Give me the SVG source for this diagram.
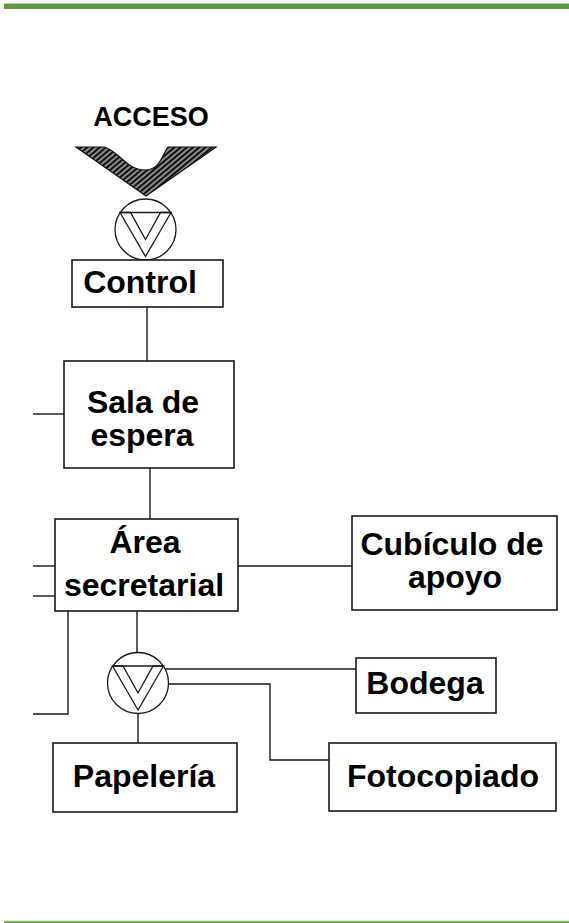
<svg xmlns="http://www.w3.org/2000/svg" width="569" height="923" viewBox="0 0 569 923">
<style>
.box{fill:#fff;stroke:#1a1a1a;stroke-width:1.6}
.ln{fill:none;stroke:#1a1a1a;stroke-width:1.4}
.vc{fill:#fff;stroke:#1a1a1a;stroke-width:1.3}
.vv{fill:#fff;stroke:#1a1a1a;stroke-width:1.3;stroke-linejoin:miter}
.t{font-family:"Liberation Sans",Arial,sans-serif;font-weight:bold;font-size:32px;fill:#000;text-anchor:middle}
</style>
<defs>
<pattern id="hatch" width="4" height="4" patternUnits="userSpaceOnUse" patternTransform="rotate(-40)">
<rect width="4" height="4" fill="#8a8a8a"/>
<rect width="4" height="2" fill="#111"/>
</pattern>
<g id="valve">
<circle class="vc" cx="0" cy="0" r="30.5"/>
<polygon class="vv" points="-25.5,-17 0,27 25.5,-17 15,-17 0,10 -15,-17"/>
<line class="ln" x1="-25.5" y1="-17" x2="25.5" y2="-17" stroke-width="1.3"/>
</g>
</defs>
<rect width="569" height="923" fill="#fff"/>
<rect x="4" y="3" width="565" height="6" fill="#5e9641"/>
<rect x="4" y="3" width="565" height="1" fill="#b7d2a8"/>
<rect x="4" y="920.5" width="565" height="1" fill="#b7d2a8"/>
<rect x="4" y="921.5" width="565" height="1.5" fill="#5e9641"/>

<g id="connectors">
<line class="ln" x1="147" y1="307" x2="147" y2="361"/>
<line class="ln" x1="33" y1="414" x2="64" y2="414"/>
<line class="ln" x1="150" y1="468" x2="150" y2="519"/>
<line class="ln" x1="33" y1="566" x2="55" y2="566"/>
<line class="ln" x1="33" y1="596" x2="55" y2="596"/>
<line class="ln" x1="238" y1="566" x2="352" y2="566"/>
<polyline class="ln" points="68,611 68,714 33,714"/>
<line class="ln" x1="137" y1="611" x2="137" y2="653"/>
<line class="ln" x1="163" y1="669" x2="356" y2="669"/>
<polyline class="ln" points="168,684 270,684 270,760 329,760"/>
<line class="ln" x1="138" y1="713" x2="138" y2="743"/>
</g>

<g id="acceso">
<text class="t" x="151" y="126" style="font-size:27px">ACCESO</text>
<path d="M76,147 L104,147 C118,150 126,170 145,170 C160,170 162,155 168,147 L216,147 L146,196 Z" fill="url(#hatch)" stroke="#111" stroke-width="1.2"/>
</g>

<g id="valve-top">
<use href="#valve" x="145.5" y="229.5"/>
</g>

<g id="control">
<rect class="box" x="72" y="260" width="151" height="47"/>
<text class="t" x="140" y="293">Control</text>
</g>

<g id="sala">
<rect class="box" x="64" y="361" width="170" height="107"/>
<text class="t" x="143" y="413">Sala de</text>
<text class="t" x="142" y="446">espera</text>
</g>

<g id="area">
<rect class="box" x="55" y="519" width="183" height="92"/>
<text class="t" x="145" y="553">Área</text>
<text class="t" x="144" y="596">secretarial</text>
</g>

<g id="cubiculo">
<rect class="box" x="352" y="516" width="205" height="94"/>
<text class="t" x="452" y="555">Cubículo de</text>
<text class="t" x="455" y="588">apoyo</text>
</g>

<g id="valve-bottom">
<use href="#valve" x="138" y="683"/>
</g>

<g id="bodega">
<rect class="box" x="356" y="658" width="140" height="55"/>
<text class="t" x="425" y="694">Bodega</text>
</g>

<g id="fotocopiado">
<rect class="box" x="329" y="743" width="227" height="68"/>
<text class="t" x="443" y="787">Fotocopiado</text>
</g>

<g id="papeleria">
<rect class="box" x="53" y="743" width="184" height="69"/>
<text class="t" x="144" y="787">Papelería</text>
</g>
</svg>
